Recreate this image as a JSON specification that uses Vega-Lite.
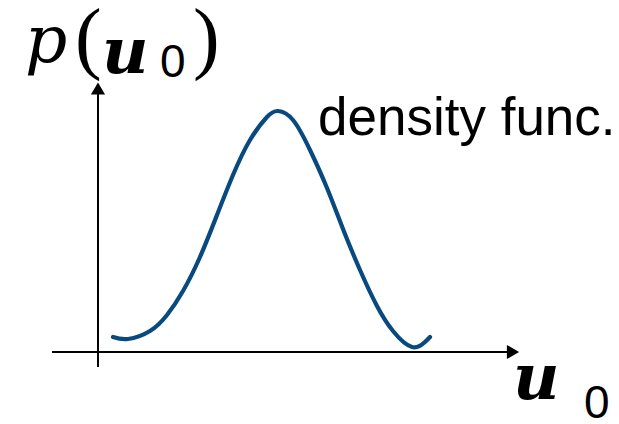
{
  "$schema": "https://vega.github.io/schema/vega-lite/v6.json",
  "width": 619,
  "height": 424,
  "padding": 0,
  "autosize": {"type": "none"},
  "background": "white",
  "config": {"view": {"stroke": null}},
  "datasets": {
    "axes": [
      {"x": -2.3, "y": 0, "x2": 20.45, "y2": 0},
      {"x": 0, "y": -0.75, "x2": 0, "y2": 12.9}
    ],
    "arrowRight": [{"x": 20.75, "y": 0}],
    "arrowUp": [{"x": 0, "y": 13.175}],
    "density": [
      {"x": 0.75, "y": 0.75},
      {"x": 1.5, "y": 0.65},
      {"x": 2.6, "y": 1.05},
      {"x": 3.45, "y": 1.85},
      {"x": 4.25, "y": 3.05},
      {"x": 5.1, "y": 4.75},
      {"x": 5.95, "y": 6.85},
      {"x": 6.75, "y": 8.85},
      {"x": 7.6, "y": 10.6},
      {"x": 8.45, "y": 11.75},
      {"x": 9.0, "y": 12.05},
      {"x": 9.75, "y": 11.6},
      {"x": 10.6, "y": 10.1},
      {"x": 11.45, "y": 8.2},
      {"x": 12.25, "y": 6.15},
      {"x": 13.1, "y": 4.1},
      {"x": 13.95, "y": 2.3},
      {"x": 14.75, "y": 1.05},
      {"x": 15.7, "y": 0.25},
      {"x": 16.35, "y": 0.5},
      {"x": 16.6, "y": 0.75}
    ],
    "labelSans": [{"x": 11.0, "y": 10.85, "t": "density func."}],
    "mathItalic": [{"x": -3.65, "y": 14.5, "t": "p"}],
    "mathParen": [
      {"x": -1.15, "y": 14.4, "t": "("},
      {"x": 4.75, "y": 14.4, "t": ")"}
    ],
    "mathBold": [
      {"x": 0.2, "y": 13.95, "t": "u"},
      {"x": 20.75, "y": -2.35, "t": "u"}
    ],
    "mathSub": [
      {"x": 3.1, "y": 13.75, "t": "0"},
      {"x": 24.3, "y": -3.3, "t": "0"}
    ]
  },
  "encoding": {
    "x": {"field": "x", "type": "quantitative", "axis": null,
          "scale": {"domain": [-4.9, 26.05], "nice": false, "zero": false}},
    "y": {"field": "y", "type": "quantitative", "axis": null,
          "scale": {"domain": [-3.6, 17.6], "nice": false, "zero": false}}
  },
  "layer": [
    {
      "data": {"name": "axes"},
      "mark": {"type": "rule", "color": "black", "strokeWidth": 2},
      "encoding": {"x2": {"field": "x2"}, "y2": {"field": "y2"}}
    },
    {
      "data": {"name": "arrowRight"},
      "mark": {"type": "point", "shape": "triangle-right", "filled": true, "color": "black", "size": 200, "opacity": 1}
    },
    {
      "data": {"name": "arrowUp"},
      "mark": {"type": "point", "shape": "triangle-up", "filled": true, "color": "black", "size": 200, "opacity": 1}
    },
    {
      "data": {"name": "density"},
      "mark": {"type": "line", "color": "#084a80", "strokeWidth": 4.2, "interpolate": "natural", "strokeCap": "round"}
    },
    {
      "data": {"name": "labelSans"},
      "mark": {"type": "text", "align": "left", "baseline": "alphabetic",
               "font": "Liberation Sans", "fontSize": 53, "color": "black"},
      "encoding": {"text": {"field": "t"}}
    },
    {
      "data": {"name": "mathItalic"},
      "mark": {"type": "text", "align": "left", "baseline": "alphabetic",
               "font": "DejaVu Serif", "fontStyle": "italic", "fontSize": 66, "color": "black"},
      "encoding": {"text": {"field": "t"}}
    },
    {
      "data": {"name": "mathParen"},
      "mark": {"type": "text", "align": "left", "baseline": "alphabetic",
               "font": "Liberation Serif", "fontSize": 80, "color": "black"},
      "encoding": {"text": {"field": "t"}}
    },
    {
      "data": {"name": "mathBold"},
      "mark": {"type": "text", "align": "left", "baseline": "alphabetic",
               "font": "DejaVu Serif", "fontStyle": "italic", "fontWeight": "bold", "fontSize": 64, "color": "black"},
      "encoding": {"text": {"field": "t"}}
    },
    {
      "data": {"name": "mathSub"},
      "mark": {"type": "text", "align": "left", "baseline": "alphabetic",
               "font": "Liberation Sans", "fontSize": 46, "color": "black"},
      "encoding": {"text": {"field": "t"}}
    }
  ]
}
